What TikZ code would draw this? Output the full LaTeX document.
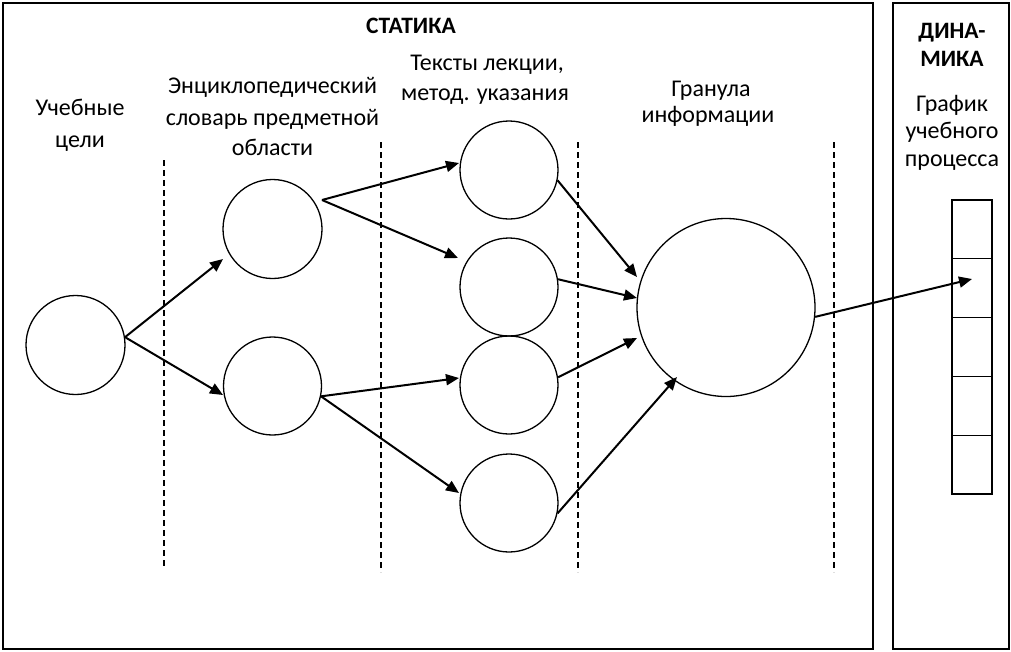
\documentclass[tikz,border=0pt]{standalone}
\usepackage{fontspec}
\setmainfont{Carlito}
\usetikzlibrary{arrows.meta}
\tikzset{
  frame/.style={draw, line width=1.2pt},
  sep/.style={draw, line width=1.2pt, dash pattern=on 6pt off 4pt},
  circ/.style={draw, circle, line width=1.3pt, inner sep=0pt},
  arr/.style={line width=2pt, -{Triangle[length=13pt,width=11pt]}},
  lbl/.style={anchor=base, inner sep=0pt, font=\fontsize{24}{28}\selectfont},
  blbl/.style={anchor=base, inner sep=0pt, font=\fontsize{23.5}{28}\selectfont\bfseries},
  cell/.style={draw, line width=1.2pt, minimum width=40pt, minimum height=58.8pt, inner sep=0pt}
}
\begin{document}
\begin{tikzpicture}[x=1pt,y=-1pt]
\useasboundingbox (0,0) rectangle (1011,651);
% frames
\draw[frame] (3,3) rectangle (873,649);
\draw[frame] (893,3) rectangle (1009,649);
% dashed separators
\draw[sep] (164,160) -- (164,568);
\draw[sep] (381,142) -- (381,572);
\draw[sep] (578,142) -- (578,572);
\draw[sep] (834,142) -- (834,572);
% labels
\node[blbl] (stat) at (411,33) {СТАТИКА};
\node[lbl] (l1a) at (80,115) {Учебные};
\node[lbl] (l1b) at (80,147) {цели};
\node[lbl] (l2a) at (272.5,93) {Энциклопедический};
\node[lbl] (l2b) at (272.5,125) {словарь предметной};
\node[lbl] (l2c) at (272.5,155) {области};
\node[lbl] (l3a) at (487,70) {Тексты лекции,};
\node[lbl] (l3b) at (485,100) {метод. указания};
\node[lbl] (l4a) at (711,96) {Гранула};
\node[lbl] (l4b) at (708,122) {информации};
\node[blbl] (dyn1) at (952,38) {ДИНА-};
\node[blbl] (dyn2) at (952,66) {МИКА};
\node[lbl] (r1) at (952,111) {График};
\node[lbl] (r2) at (952,138) {учебного};
\node[lbl] (r3) at (952,166) {процесса};
% circles
\node[circ, minimum size=99pt] (C0) at (75.5,345) {};
\node[circ, minimum size=99pt] (C1) at (272.5,229) {};
\node[circ, minimum size=98pt] (C2) at (272.5,386) {};
\node[circ, minimum size=98pt] (T1) at (509,170) {};
\node[circ, minimum size=98pt] (T2) at (509,287) {};
\node[circ, minimum size=98pt] (T3) at (509,385) {};
\node[circ, minimum size=98pt] (T4) at (509,503) {};
\node[circ, minimum size=178pt] (G) at (726,307.5) {};
% schedule cells
\node[cell] (s1) at (972,229.4) {};
\node[cell] (s2) at (972,288.2) {};
\node[cell] (s3) at (972,347) {};
\node[cell] (s4) at (972,405.8) {};
\node[cell] (s5) at (972,464.6) {};
% connector end points
\coordinate (c1s) at (322,200);
\coordinate (c1t) at (223,259);
\coordinate (c2t) at (223,395);
\coordinate (t1t) at (459,163);
\coordinate (t2t) at (458,258);
\coordinate (t3t) at (459,378);
\coordinate (t4t) at (459,493);
\coordinate (g1) at (637,277);
\coordinate (g2) at (637,298);
\coordinate (g3) at (637,338);
\coordinate (g4) at (677,377);
\coordinate (st) at (972,279);
% connectors
\draw[arr] (C0.9) -- (c1t);
\draw[arr] (C0.9) -- (c2t);
\draw[arr] (c1s) -- (t1t);
\draw[arr] (c1s) -- (t2t);
\draw[arr] (C2.-12) -- (t3t);
\draw[arr] (C2.-12) -- (t4t);
\draw[arr] (T1.-12) -- (g1);
\draw[arr] (T2.9) -- (g2);
\draw[arr] (T3.9) -- (g3);
\draw[arr] (T4.-12) -- (g4);
\draw[arr] (G.-6) -- (st);
\end{tikzpicture}
\end{document}
